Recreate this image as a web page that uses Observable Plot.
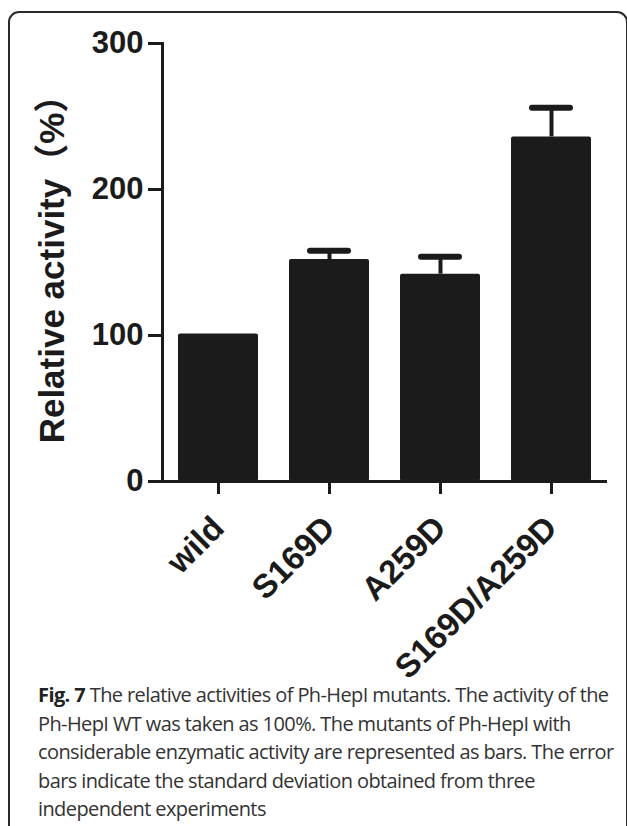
<!DOCTYPE html>
<html>
<head>
<meta charset="utf-8">
<script src="https://cdn.jsdelivr.net/npm/d3@7"></script>
<script src="https://cdn.jsdelivr.net/npm/@observablehq/plot@0.6"></script>
<style>
  html, body { margin: 0; padding: 0; background: #fff; }
  #wrap { position: relative; width: 627px; height: 826px; overflow: hidden; }
  #frame { position: absolute; left: 8px; top: 11px; width: 620px; height: 840px;
           border: 2px solid #2a2a2a; border-radius: 11px; box-sizing: border-box; }
  #chart { position: absolute; left: 0; top: 0; }
  #caption { position: absolute; left: 38px; top: 681px; width: 585px;
             font-family: "Open Sans", "Noto Sans", sans-serif; font-size: 20px; line-height: 28.5px;
             letter-spacing: -0.6px; color: #333; font-weight: 400; }
  #caption div { white-space: nowrap; }
  #caption b { font-weight: 700; color: #222; }
</style>
</head>
<body>
<div id="wrap">
  <div id="frame"></div>
  <div id="chart"></div>
  <div id="caption"></div>
</div>
<script>
const categories = ["wild", "S169D", "A259D", "S169D/A259D"];
const means = [101, 152, 142, 236];
const upper = [null, 158, 154, 256];
const yTicks = [0, 100, 200, 300];
const yLabel = "Relative activity（%）";
const captionBold = "Fig. 7";
const captionLines = [
  " The relative activities of Ph-HepI mutants. The activity of the",
  "Ph-HepI WT was taken as 100%. The mutants of Ph-HepI with",
  "considerable enzymatic activity are represented as bars. The error",
  "bars indicate the standard deviation obtained from three",
  "independent experiments"
];

const data = categories.map((c, i) => ({name: c, value: means[i], hi: upper[i]}));
const errs = data.filter(d => d.hi != null);
const ink = "#1b1b1b";

const chart = Plot.plot({
  width: 627,
  height: 700,
  marginTop: 43,
  marginBottom: 219,
  marginLeft: 162,
  marginRight: 20,
  style: {fontFamily: "'Liberation Sans', Arial, 'Noto Sans CJK SC', sans-serif", color: ink, background: "transparent", overflow: "visible"},
  x: {domain: categories, paddingInner: 0.28, paddingOuter: 0.14},
  y: {domain: [0, 300]},
  marks: [
    Plot.barY(data, {x: "name", y: "value", fill: ink, rx: 2}),
    Plot.ruleX(errs, {x: "name", y1: "value", y2: "hi", stroke: ink, strokeWidth: 4}),
    Plot.tickY(errs, {x: "name", y: "hi", stroke: ink, strokeWidth: 6, strokeLinecap: "round", inset: 21}),
    Plot.axisY({ticks: yTicks, tickSize: 14, tickPadding: 5, tickFormat: d => d, fontSize: 31, fontWeight: "bold", strokeWidth: 3, label: null, style: {letterSpacing: "-1.5px"}}),
    Plot.axisX({tickSize: 13, tickPadding: 28, tickRotate: -45, fontSize: 33, fontWeight: "bold", strokeWidth: 3, label: null}),
    Plot.ruleY([0], {stroke: ink, strokeWidth: 3}),
    Plot.frame({anchor: "left", stroke: ink, strokeWidth: 3}),
    Plot.text([yLabel], {frameAnchor: "left", text: d => d, textAnchor: "middle", lineAnchor: "middle", rotate: -90, dx: 52 - 162, dy: -2, fontSize: 35, fontWeight: "bold", fill: ink})
  ]
});
document.getElementById("chart").appendChild(chart);
const cap = document.getElementById("caption");
captionLines.forEach((line, i) => {
  const div = document.createElement("div");
  if (i === 0) {
    const b = document.createElement("b"); b.textContent = captionBold;
    div.appendChild(b);
  }
  div.appendChild(document.createTextNode(line));
  cap.appendChild(div);
});
</script>
</body>
</html>
